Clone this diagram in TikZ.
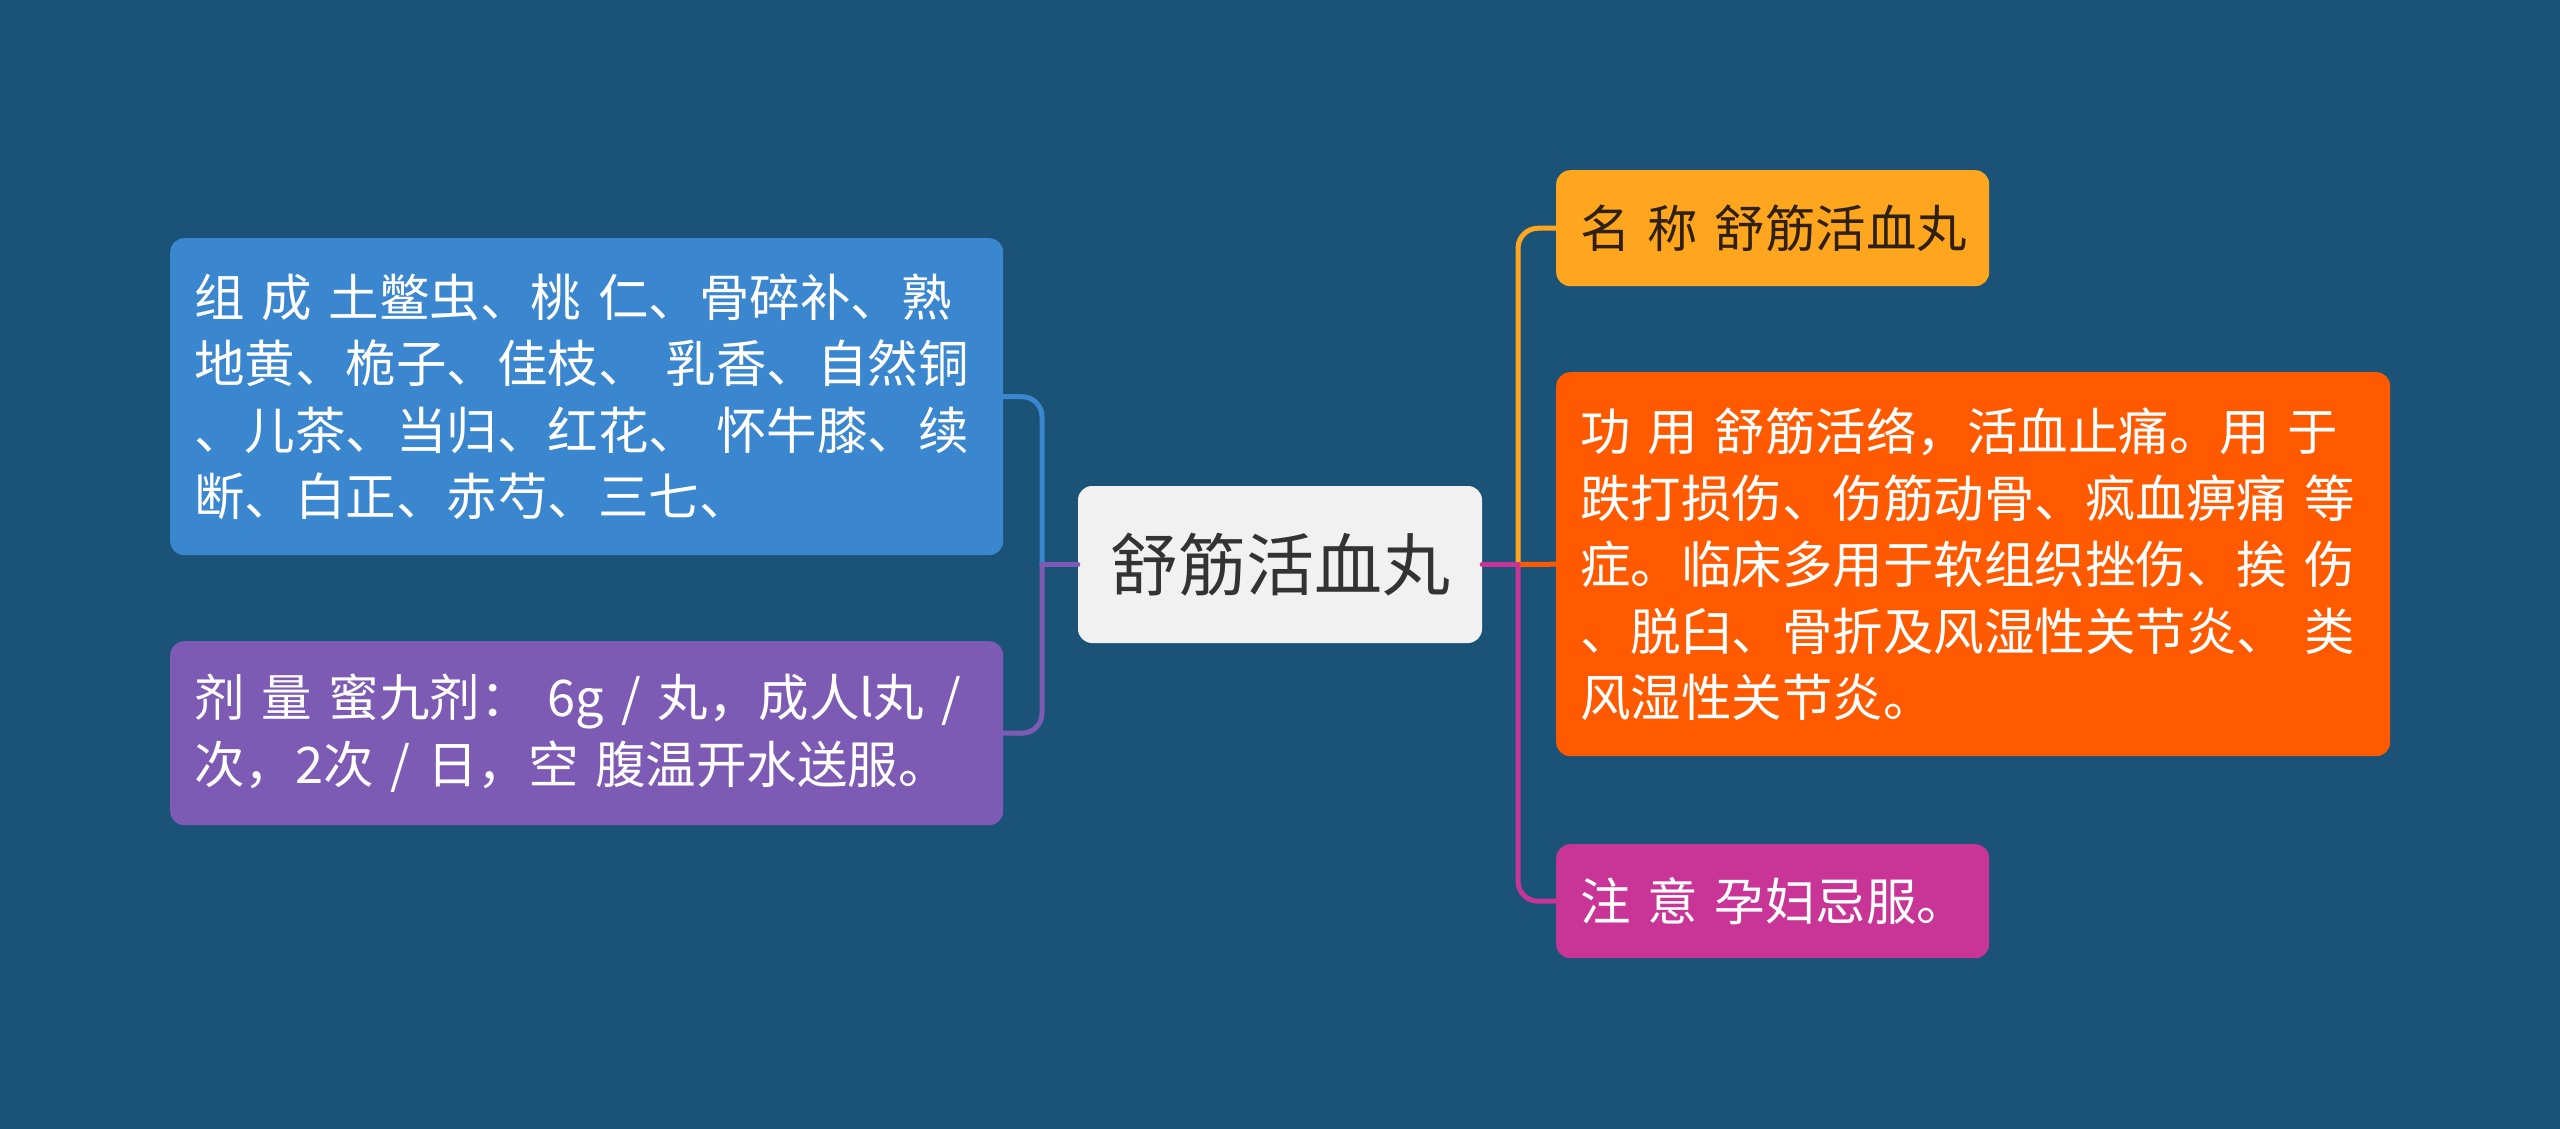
\documentclass[tikz,border=0pt]{standalone}
\usepackage{fontspec}
\setmainfont{Noto Sans CJK SC}[WordSpace=0.75]
\definecolor{bg}{HTML}{1A5377}
\definecolor{cblue}{HTML}{3A86CF}
\definecolor{cpurple}{HTML}{7D5BB4}
\definecolor{cyellow}{HTML}{FFA61E}
\definecolor{corange}{HTML}{FF5A00}
\definecolor{cmagenta}{HTML}{C83597}
\definecolor{croot}{HTML}{F1F1F1}
\begin{document}
\begin{tikzpicture}[x=1pt,y=-1pt,line cap=round,line join=round,
	box/.style={anchor=north west,rounded corners=14pt,inner xsep=24pt,inner ysep=6pt,align=left,text=white,font=\fontsize{50.5}{66.5}\selectfont},
	link/.style={line width=5pt,rounded corners=20pt}]
	\useasboundingbox[fill=bg] (0,0) rectangle (2560,1129);
	\node[rounded corners=14pt,fill=croot,text=black!80,minimum width=404pt,minimum height=157pt,font=\fontsize{68}{80}\selectfont] (root) at (1280,564.5) {舒筋活血丸};
	\node[box,fill=cblue,text width=785pt,minimum height=317pt] (zucheng) at (170,238) {组~成~土鳖虫、桃~仁、骨碎补、熟\\地黄、桅子、佳枝、~乳香、自然铜\\、儿茶、当归、红花、~怀牛膝、续\\断、白正、赤芍、三七、};
	\node[box,fill=cpurple,text width=785pt,minimum height=184pt] (jiliang) at (170,641) {剂~量~蜜九剂：~6g~/~丸，成人l丸~/\\次，2次~/~日，空~腹温开水送服。};
	\node[box,fill=cyellow,text=black!75!brown,text width=385pt,minimum height=116pt] (mingcheng) at (1556,170) {名~称~舒筋活血丸};
	\node[box,fill=corange,text width=786pt,minimum height=384pt] (gongyong) at (1556,372) {功~用~舒筋活络，活血止痛。用~于\\跌打损伤、伤筋动骨、疯血痹痛~等\\症。临床多用于软组织挫伤、挨~伤\\、脱臼、骨折及风湿性关节炎、~类\\风湿性关节炎。};
	\node[box,fill=cmagenta,text width=385pt,minimum height=114pt] (zhuyi) at (1556,844) {注~意~孕妇忌服。};
	\coordinate (lj) at (1042,564.5);
	\coordinate (rj) at (1518,564.5);
	\draw[link,cblue] (lj) |- (zucheng.east);
	\draw[link,cpurple] (lj) |- (jiliang.east);
	\draw[link,cpurple,rounded corners=0pt] (root.west) -- (lj);
	\draw[link,cyellow] (rj) |- (mingcheng.west);
	\draw[link,cmagenta] (rj) |- (zhuyi.west);
	\draw[link,corange] (rj) -- (gongyong.west);
	\draw[link,cmagenta,rounded corners=0pt] (root.east) -- (rj);
\end{tikzpicture}
\end{document}
